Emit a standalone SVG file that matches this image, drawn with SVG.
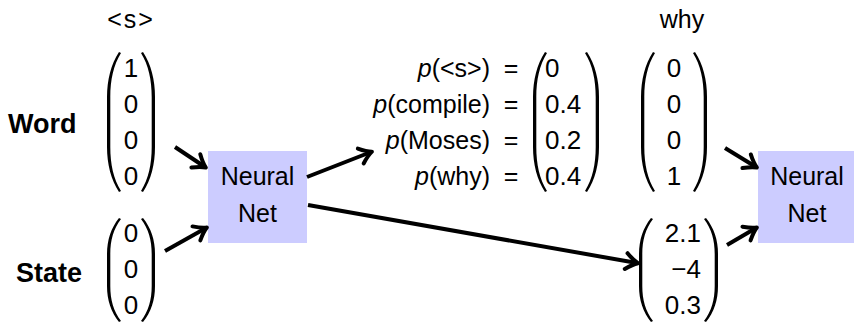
<svg xmlns="http://www.w3.org/2000/svg" xmlns:xlink="http://www.w3.org/1999/xlink" width="854" height="322" viewBox="0 0 854 322">
<style>
text{font-family:"Liberation Sans",Arial,sans-serif;font-size:25px;fill:#000}
.n{font-size:26px}
.c{text-anchor:middle}
.r{text-anchor:end}
.b{font-weight:bold;font-size:27px}
.box{fill:#ccccff}
.par{fill:#000}
.arr{stroke:#000;stroke-width:4;fill:none;marker-end:url(#ah)}
</style>
<defs>
<marker id="ah" markerUnits="userSpaceOnUse" markerWidth="22" markerHeight="22" viewBox="-14 -11 22 22" refX="0" refY="0" orient="auto">
<path d="M -11 -8 Q -4 -2 1 0 Q -4 2 -11 8" fill="none" stroke="#000" stroke-width="4" stroke-linecap="round" stroke-linejoin="round"/>
</marker>
<path id="p140" d="M 12 0 C 4 12 0 28 0 45 L 0 95 C 0 112 4 128 12 140 L 14 139 C 6.5 127 3.3 112 3.3 95 L 3.3 45 C 3.3 28 6.5 13 14 1 Z"/>
<path id="p104" d="M 12 0 C 4 10 0 22 0 36 L 0 68 C 0 82 4 94 12 104 L 14 103 C 6.5 93 3.3 82 3.3 68 L 3.3 36 C 3.3 22 6.5 11 14 1 Z"/>
</defs>

<g id="word-input">
<text class="c" x="131" y="28" letter-spacing="2">&lt;s&gt;</text>
<text class="b" x="8" y="133">Word</text>
<use class="par" xlink:href="#p140" x="107" y="52"/>
<use class="par" xlink:href="#p140" transform="translate(155,52) scale(-1,1)"/>
<text class="c n" x="131" y="77">1</text>
<text class="c n" x="131" y="113">0</text>
<text class="c n" x="131" y="149">0</text>
<text class="c n" x="131" y="185">0</text>
</g>

<g id="state-input">
<text class="b" x="16" y="282">State</text>
<use class="par" xlink:href="#p104" x="107" y="218"/>
<use class="par" xlink:href="#p104" transform="translate(155,218) scale(-1,1)"/>
<text class="c n" x="131" y="242">0</text>
<text class="c n" x="131" y="278">0</text>
<text class="c n" x="131" y="314">0</text>
</g>

<g id="nn1">
<rect class="box" x="208" y="151" width="99" height="92"/>
<text class="c" x="257.5" y="185">Neural</text>
<text class="c" x="257.5" y="222">Net</text>
</g>

<g id="probs">
<text class="r" x="490" y="77"><tspan font-style="italic">p</tspan>(&lt;s&gt;)</text>
<text class="r" x="490" y="113"><tspan font-style="italic">p</tspan>(compile)</text>
<text class="r" x="490" y="149"><tspan font-style="italic">p</tspan>(Moses)</text>
<text class="r" x="490" y="185"><tspan font-style="italic">p</tspan>(why)</text>
<text class="c" x="511" y="77">=</text>
<text class="c" x="511" y="113">=</text>
<text class="c" x="511" y="149">=</text>
<text class="c" x="511" y="185">=</text>
<use class="par" xlink:href="#p140" x="533" y="52"/>
<use class="par" xlink:href="#p140" transform="translate(599,52) scale(-1,1)"/>
<text class="n" x="545" y="77">0</text>
<text class="n" x="545" y="113">0.4</text>
<text class="n" x="545" y="149">0.2</text>
<text class="n" x="545" y="185">0.4</text>
</g>

<g id="why-input">
<text class="c" x="682" y="28">why</text>
<use class="par" xlink:href="#p140" x="641" y="52"/>
<use class="par" xlink:href="#p140" transform="translate(707,52) scale(-1,1)"/>
<text class="c n" x="674" y="77">0</text>
<text class="c n" x="674" y="113">0</text>
<text class="c n" x="674" y="149">0</text>
<text class="c n" x="674" y="185">1</text>
</g>

<g id="state2">
<use class="par" xlink:href="#p104" x="639" y="218"/>
<use class="par" xlink:href="#p104" transform="translate(718,218) scale(-1,1)"/>
<text class="r n" x="701" y="242">2.1</text>
<text class="r n" x="701" y="278">−4</text>
<text class="r n" x="701" y="314">0.3</text>
</g>

<g id="nn2">
<rect class="box" x="758" y="151" width="97" height="92"/>
<text class="c" x="807" y="185">Neural</text>
<text class="c" x="807" y="222">Net</text>
</g>

<g id="connectors">
<line class="arr" x1="175" y1="147" x2="205" y2="167"/>
<line class="arr" x1="165" y1="251" x2="206" y2="228"/>
<line class="arr" x1="307" y1="177" x2="371" y2="152"/>
<line class="arr" x1="308" y1="205" x2="637" y2="263"/>
<line class="arr" x1="725" y1="148" x2="756" y2="167"/>
<line class="arr" x1="727" y1="245" x2="756" y2="228"/>
</g>
</svg>
